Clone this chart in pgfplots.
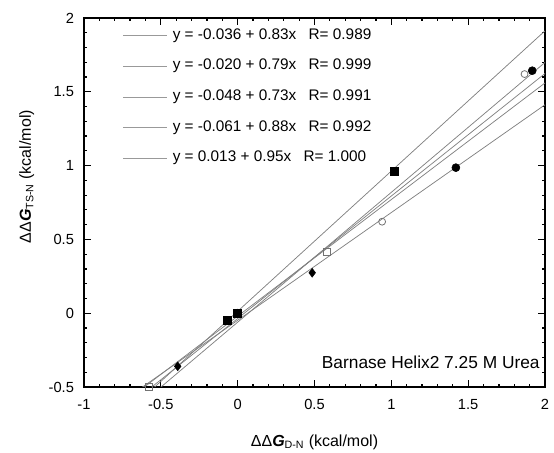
\documentclass[border=0pt]{standalone}
\usepackage{pgfplots}
\pgfplotsset{compat=1.18}
\usepackage{fontspec}
\setmainfont{Liberation Sans}
\definecolor{linegray}{gray}{0.5}
\definecolor{leggray}{gray}{0.6}
\definecolor{markgray}{gray}{0.45}
\begin{document}
\begin{tikzpicture}
\begin{axis}[
  at={(0,0)}, anchor=south west,
  scale only axis, width=345.75pt, height=276.75pt,
  xmin=-1, xmax=2, ymin=-0.5, ymax=2,
  xtick={-1,-0.5,0,0.5,1,1.5,2}, xticklabels={-1,-0.5,0,0.5,1,1.5,2},
  ytick={-0.5,0,0.5,1,1.5,2}, yticklabels={-0.5,0,0.5,1,1.5,2},
  minor tick num=4,
  tick align=inside,
  major tick length=5pt, minor tick length=2.6pt,
  every tick/.style={black, line width=0.9pt},
  axis line style={line width=1.4pt},
  tick label style={font=\fontsize{11}{13}\selectfont},
  xticklabel style={yshift=-6pt},
  yticklabel style={xshift=-4pt},
  xlabel={ΔΔ\textbf{\textit{G}}\textsubscript{D-N} (kcal/mol)},
  ylabel={ΔΔ\textbf{\textit{G}}\textsubscript{TS-N} (kcal/mol)},
  xlabel style={at={(axis description cs:0.5,-0.149)}, anchor=center, font=\fontsize{12}{14}\selectfont},
  ylabel style={at={(axis description cs:-0.124,0.57)}, anchor=center, font=\fontsize{12}{14}\selectfont},
  legend style={draw=none, fill=none, at={(axis description cs:0.0846,0.972)}, anchor=north west,
    inner sep=0pt, outer sep=0pt, row sep=12pt, column sep=3.75pt,
    nodes={inner sep=0pt, text height=8.2pt, text depth=2.8pt, font=\fontsize{11.5}{13}\selectfont}},
  legend cell align=left,
  legend image code/.code={\draw[leggray, line width=0.6pt] (0pt,0pt) -- (33pt,0pt);},
]
% fit lines
\addplot[linegray, line width=0.55pt] coordinates {(-1,-0.866) (2,1.624)};
\addlegendentry{y = -0.036 + 0.83x\hspace{0.8em}R= 0.989}
\addplot[linegray, line width=0.55pt] coordinates {(-1,-0.81) (2,1.56)};
\addlegendentry{y = -0.020 + 0.79x\hspace{0.8em}R= 0.999}
\addplot[linegray, line width=0.55pt] coordinates {(-1,-0.778) (2,1.412)};
\addlegendentry{y = -0.048 + 0.73x\hspace{0.8em}R= 0.991}
\addplot[linegray, line width=0.55pt] coordinates {(-1,-0.941) (2,1.699)};
\addlegendentry{y = -0.061 + 0.88x\hspace{0.8em}R= 0.992}
\addplot[linegray, line width=0.55pt] coordinates {(-1,-0.937) (2,1.913)};
\addlegendentry{y = 0.013 + 0.95x\hspace{0.8em}R= 1.000}
% markers
\addplot[only marks, mark=square, mark size=2.6pt, mark options={draw=markgray, fill=none, line width=0.6pt}, forget plot]
  coordinates {(-0.58,-0.5) (0.583,0.415)};
\addplot[only marks, mark=o, mark size=2.6pt, mark options={draw=markgray, fill=none, line width=0.6pt}, forget plot]
  coordinates {(0.94,0.62) (1.867,1.62)};
\addplot[only marks, mark=diamond*, mark size=3.3pt, mark options={draw=black, fill=black}, forget plot]
  coordinates {(-0.39,-0.36) (0.485,0.274)};
\addplot[only marks, mark=square*, mark size=3pt, mark options={draw=black, fill=black}, forget plot]
  coordinates {(-0.065,-0.05) (0,0) (1.02,0.96)};
\addplot[only marks, mark=*, mark size=3pt, mark options={draw=black, fill=black}, forget plot]
  coordinates {(0,0) (1.42,0.986) (1.917,1.643)};
\node[anchor=base east, font=\fontsize{13}{15}\selectfont, inner sep=0pt] at (axis cs:1.967,-0.372) {Barnase Helix2 7.25 M Urea};
\end{axis}
\pgfresetboundingbox
\path[use as bounding box] (-63pt,-49.5pt) rectangle (352.5pt,290.25pt);
\end{tikzpicture}
\end{document}
